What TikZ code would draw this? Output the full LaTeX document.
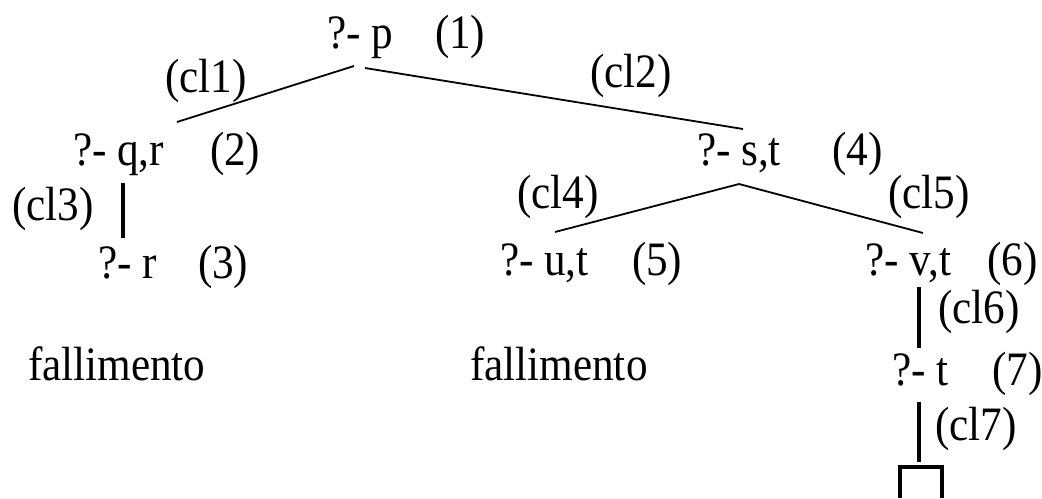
\documentclass[tikz,border=0pt]{standalone}
\usepackage{fontspec}
\setmainfont[FakeStretch=0.9]{Liberation Serif}
\begin{document}
\begin{tikzpicture}[x=0.5pt,y=-0.5pt,
  txt/.style={anchor=base west,inner sep=0pt,outer sep=0pt,font=\fontsize{24}{28}\selectfont},
  edge/.style={line width=0.9pt},
  vedge/.style={line width=2pt},
  leaf/.style={line width=2pt}]
\useasboundingbox[fill=white] (0,0) rectangle (1042,498);
% goals
\node[txt] (g1) at (327,48) {?- p};
\node[txt] (n1) at (435,48) {(1)};
\node[txt] (g2) at (73,165) {?- q,r};
\node[txt] (n2) at (210,165) {(2)};
\node[txt] (g3) at (98,278) {?- r};
\node[txt] (n3) at (198,278) {(3)};
\node[txt] (g4) at (697,165) {?- s,t};
\node[txt] (n4) at (832,165) {(4)};
\node[txt] (g5) at (500,275) {?- u,t};
\node[txt] (n5) at (632,275) {(5)};
\node[txt] (g6) at (865,275) {?- v,t};
\node[txt] (n6) at (987,275) {(6)};
\node[txt] (g7) at (892,385) {?- t};
\node[txt] (n7) at (992,385) {(7)};
\node[txt] (f1) at (28,380) {fallimento};
\node[txt] (f2) at (470,380) {fallimento};
% clause labels
\node[txt] (c1) at (165,92) {(cl1)};
\node[txt] (c2) at (590,87) {(cl2)};
\node[txt] (c3) at (12,220) {(cl3)};
\node[txt] (c4) at (517,208) {(cl4)};
\node[txt] (c5) at (888,208) {(cl5)};
\node[txt] (c6) at (938,323) {(cl6)};
\node[txt] (c7) at (935,440) {(cl7)};
% connector end points
\coordinate (g1l) at (354,66);
\coordinate (g1r) at (365,68);
\coordinate (g2t) at (177,122);
\coordinate (g4t) at (743,129);
\coordinate (g2b) at (123,183);
\coordinate (g3t) at (123,238);
\coordinate (g4b) at (739,184);
\coordinate (g5t) at (555,232);
\coordinate (g6t) at (923,233);
\coordinate (g6b) at (919,287);
\coordinate (g7t) at (919,348);
\coordinate (g7b) at (919,402);
\coordinate (bt) at (919,462);
% connectors
\draw[edge] (g1l) -- (g2t);
\draw[edge] (g1r) -- (g4t);
\draw[vedge] (g2b) -- (g3t);
\draw[edge] (g5t) -- (g4b) -- (g6t);
\draw[vedge] (g6b) -- (g7t);
\draw[vedge] (g7b) -- (bt);
% empty clause box
\draw[leaf] (900,498) -- (900,467) -- (942,467) -- (942,498);
\end{tikzpicture}
\end{document}
